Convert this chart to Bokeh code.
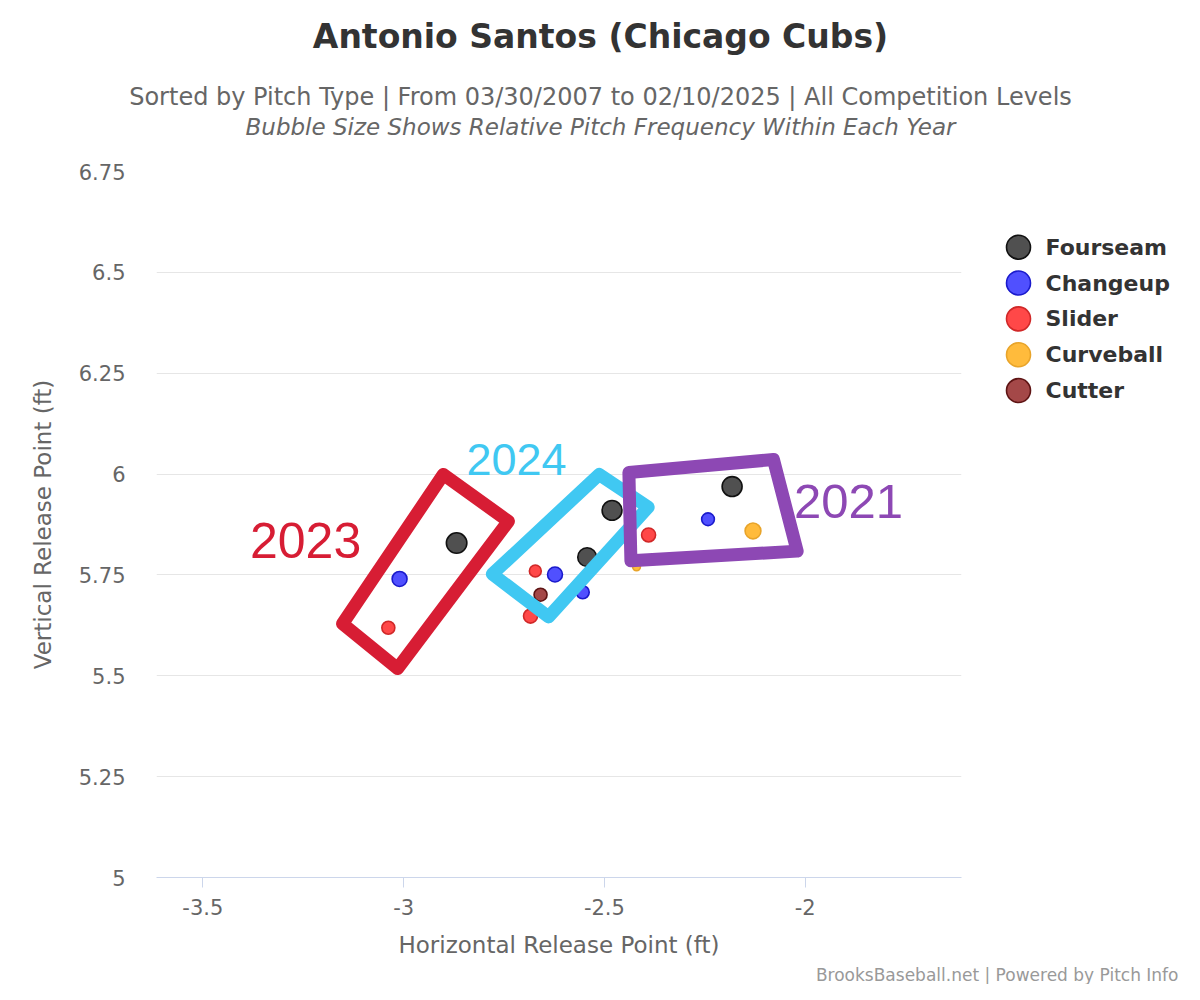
import math
from bokeh.plotting import figure
from bokeh.layouts import column, row
from bokeh.models import Range1d, ColumnDataSource, FixedTicker
from bokeh.core.properties import value
from bokeh.embed import file_html
from bokeh.resources import INLINE

# ---------------- data ----------------
pitch_types = ["Fourseam", "Changeup", "Slider", "Curveball", "Cutter"]

years = [2023, 2023, 2023,
         2024, 2024, 2024, 2024, 2024, 2024, 2024, 2024,
         2021, 2021, 2021, 2021]
pitch = ["Fourseam", "Changeup", "Slider",
         "Fourseam", "Fourseam", "Changeup", "Changeup", "Slider", "Slider", "Cutter", "Curveball",
         "Fourseam", "Changeup", "Curveball", "Slider"]
h_release = [-2.868, -3.010, -3.038,
             -2.481, -2.543, -2.623, -2.554, -2.672, -2.684, -2.659, -2.420,
             -2.182, -2.242, -2.130, -2.390]
v_release = [5.829, 5.740, 5.619,
             5.910, 5.794, 5.751, 5.707, 5.760, 5.648, 5.701, 5.770,
             5.969, 5.888, 5.859, 5.849]
frequency = [62, 33, 25,
             58, 52, 33, 25, 21, 29, 25, 9,
             59, 24, 37, 29]

x_ticks = [-3.5, -3.0, -2.5, -2.0]
x_tick_labels = ["-3.5", "-3", "-2.5", "-2"]
y_ticks = [5.0, 5.25, 5.5, 5.75, 6.0, 6.25, 6.5, 6.75]
y_tick_labels = ["5", "5.25", "5.5", "5.75", "6", "6.25", "6.5", "6.75"]

# hand-drawn year annotations (outline corners)
box_years = ["2023", "2024", "2021"]
box_x = [[-2.901, -2.739, -3.015, -3.152],
         [-2.513, -2.391, -2.639, -2.779],
         [-2.439, -2.079, -2.020, -2.434]]
box_y = [[5.999, 5.883, 5.518, 5.629],
         [5.999, 5.918, 5.646, 5.752],
         [6.004, 6.036, 5.809, 5.785]]
year_label_x = [-3.244, -2.719, -1.892]
year_label_y = [5.836, 6.036, 5.933]

title_text = "Antonio Santos (Chicago Cubs)"
subtitle_text = "Sorted by Pitch Type | From 03/30/2007 to 02/10/2025 | All Competition Levels"
subtitle2_text = "Bubble Size Shows Relative Pitch Frequency Within Each Year"
credits_text = "BrooksBaseball.net | Powered by Pitch Info"

# ---------------- styles / layout ----------------
fill_colors = {"Fourseam": "#505050", "Changeup": "#5050ff", "Slider": "#ff4848",
               "Curveball": "#ffbb3c", "Cutter": "#a44848"}
line_colors = {"Fourseam": "#111111", "Changeup": "#1a1acc", "Slider": "#d02828",
               "Curveball": "#e8a42a", "Cutter": "#5e1414"}
box_colors = ["#d71d34", "#40c8f2", "#8d48b4"]
box_font = ["50px", "45px", "49px"]

FONT = "DejaVu Sans"
TOTAL_W = 1184
TITLE_H = 151
FRAME_TOP, FRAME_BOTTOM = 171, 880
FRAME_LEFT, FRAME_RIGHT = 156, 961
BORDER_TOP = FRAME_TOP - TITLE_H
BORDER_BOTTOM = 80
MAIN_H = BORDER_TOP + (FRAME_BOTTOM - FRAME_TOP) + BORDER_BOTTOM
MAIN_W = FRAME_RIGHT + 7
LEG_W = TOTAL_W - MAIN_W
CRED_TOP = TITLE_H + MAIN_H
CRED_H = 984 - CRED_TOP


def blank(width, height, xr, yr, **kw):
    f = figure(width=width, height=height, output_backend="svg", toolbar_location=None,
               x_range=Range1d(*xr), y_range=Range1d(*yr),
               x_axis_type=None, y_axis_type=None, outline_line_color=None,
               background_fill_color="white", border_fill_color="white", **kw)
    f.xgrid.visible = False
    f.ygrid.visible = False
    return f


# ---------------- title strip (page-pixel coordinates) ----------------
top = blank(TOTAL_W, TITLE_H, (0, TOTAL_W), (TITLE_H, 0), min_border=0)
top.text(x=[600], y=[36], text=[title_text], text_font=value(FONT), text_font_size="33px",
         text_font_style="bold", text_color="#333333", text_align="center",
         text_baseline="middle")
top.text(x=[600, 600], y=[96, 126], text=[subtitle_text, subtitle2_text],
         text_font=value(FONT), text_font_size=["24px", "23px"],
         text_font_style=["normal", "italic"], text_color="#666666",
         text_align="center", text_baseline="middle")

# ---------------- main chart ----------------
x0, x1 = -3.6153, -1.6108
p = figure(width=MAIN_W, height=MAIN_H, output_backend="svg", toolbar_location=None,
           x_range=Range1d(x0, x1), y_range=Range1d(5.0, 6.75), title=None,
           min_border_left=FRAME_LEFT, min_border_right=MAIN_W - FRAME_RIGHT,
           min_border_top=BORDER_TOP, min_border_bottom=BORDER_BOTTOM,
           outline_line_color=None, background_fill_color="white",
           border_fill_color="white")

p.xaxis.ticker = FixedTicker(ticks=x_ticks)
p.xaxis.major_label_overrides = {t: l for t, l in zip(x_ticks, x_tick_labels)}
p.yaxis.ticker = FixedTicker(ticks=y_ticks)
p.yaxis.major_label_overrides = {t: l for t, l in zip(y_ticks, y_tick_labels)}
for ax in (p.xaxis, p.yaxis):
    ax.major_label_text_font = FONT
    ax.major_label_text_font_size = "21px"
    ax.major_label_text_color = "#666666"
    ax.axis_label_text_font = FONT
    ax.axis_label_text_font_size = "23px"
    ax.axis_label_text_color = "#666666"
    ax.axis_label_text_font_style = "normal"
    ax.minor_tick_line_color = None
p.xaxis.axis_label = "Horizontal Release Point (ft)"
p.yaxis.axis_label = "Vertical Release Point (ft)"
p.xaxis.axis_line_color = "#ccd6eb"
p.xaxis.major_tick_line_color = "#ccd6eb"
p.xaxis.major_tick_out = 10
p.xaxis.major_tick_in = 0
p.xaxis.major_label_standoff = 11
p.xaxis.axis_label_standoff = 14
p.yaxis.axis_line_color = None
p.yaxis.major_tick_line_color = None
p.yaxis.major_label_standoff = 25
p.yaxis.axis_label_standoff = 20
p.xgrid.grid_line_color = None
p.ygrid.ticker = FixedTicker(ticks=y_ticks)
p.ygrid.grid_line_color = "#e6e6e6"
p.ygrid.grid_line_width = 1

for pt in pitch_types:
    idx = [i for i, v in enumerate(pitch) if v == pt]
    src = ColumnDataSource(dict(
        x=[h_release[i] for i in idx],
        y=[v_release[i] for i in idx],
        year=[years[i] for i in idx],
        size=[2.6 * math.sqrt(frequency[i]) for i in idx]))
    p.scatter("x", "y", size="size", source=src, marker="circle",
              fill_color=fill_colors[pt], line_color=line_colors[pt], line_width=1.6)

p.patches(xs=box_x, ys=box_y, fill_color=None, line_color=box_colors,
          line_width=13, line_join="round")
p.text(x=year_label_x, y=year_label_y, text=box_years, text_color=box_colors,
       text_font=value("Liberation Sans"), text_font_size=box_font,
       text_align="center", text_baseline="middle")

# ---------------- legend panel (frame aligned with main chart; page-pixel coords) ----------------
leg = blank(LEG_W, MAIN_H, (MAIN_W, TOTAL_W), (FRAME_BOTTOM, FRAME_TOP),
            min_border_left=0, min_border_right=0,
            min_border_top=BORDER_TOP, min_border_bottom=BORDER_BOTTOM)
leg_x = [1018] * len(pitch_types)
leg_y = [247 + 36 * i for i in range(len(pitch_types))]
leg.scatter(x=leg_x, y=leg_y, size=24, marker="circle",
            fill_color=[fill_colors[t] for t in pitch_types],
            line_color=[line_colors[t] for t in pitch_types], line_width=1.6)
leg.text(x=[1045] * len(pitch_types), y=leg_y, text=pitch_types, text_font=value(FONT),
         text_font_size="22px", text_font_style="bold", text_color="#333333",
         text_align="left", text_baseline="middle")

# ---------------- credits strip (page-pixel coordinates) ----------------
cred = blank(TOTAL_W, CRED_H, (0, TOTAL_W), (984, CRED_TOP), min_border=0)
cred.text(x=[1178], y=[974], text=[credits_text], text_font=value(FONT),
          text_font_size="17px", text_color="#999999", text_align="right",
          text_baseline="middle")

layout = column(top, row(p, leg), cred)
open("out.html", "w").write(file_html(layout, INLINE))
